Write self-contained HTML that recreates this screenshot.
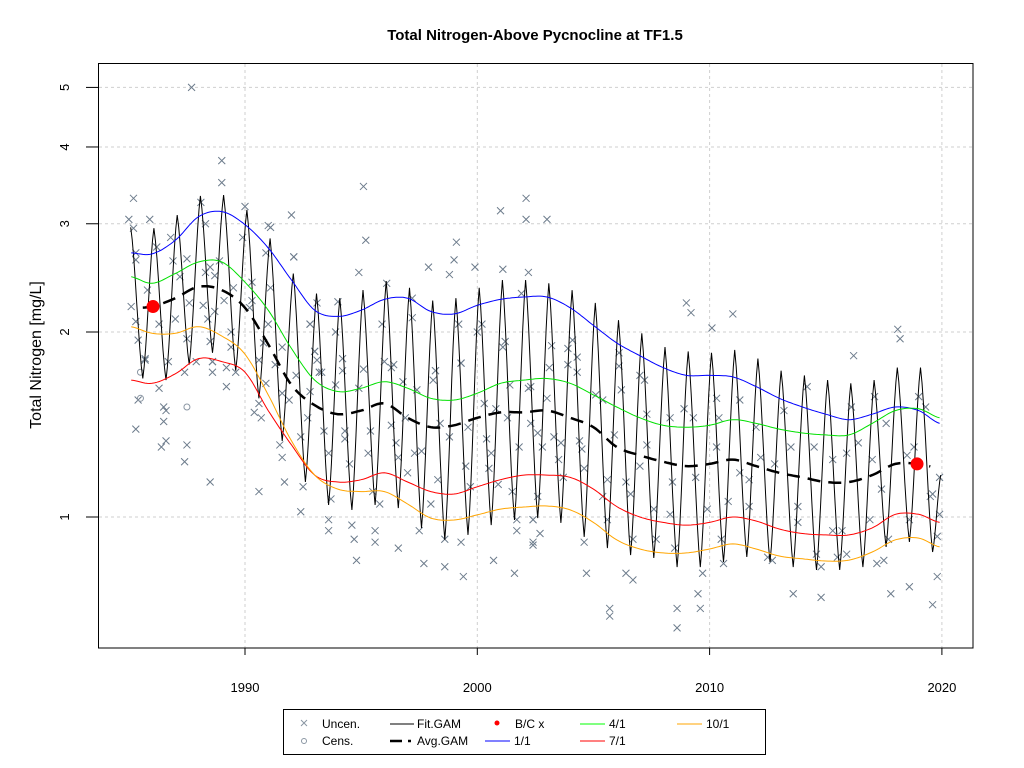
<!DOCTYPE html>
<html><head><meta charset="utf-8">
<style>
html,body{margin:0;padding:0;background:#fff;}
svg{display:block;font-family:"Liberation Sans",Arial,sans-serif;}
</style></head>
<body>
<svg id="chart" width="1024" height="768" viewBox="0 0 1024 768" xmlns="http://www.w3.org/2000/svg">
<rect width="1024" height="768" fill="#fff"/>
<text x="535" y="40" text-anchor="middle" font-size="15" font-weight="bold">Total Nitrogen-Above Pycnocline at TF1.5</text>
<text transform="translate(41,355) rotate(-90)" text-anchor="middle" font-size="16">Total Nitrogen [mg/L]</text>
<g id="grid"></g>
<g id="marks"></g>
<rect x="98.5" y="63.5" width="874.5" height="584.5" fill="none" stroke="#000" stroke-width="1"/>
<g id="axes"></g>
<g id="legend">
<rect x="283.5" y="709.5" width="482" height="45" fill="#fff" stroke="#000"/>
<g font-size="12">
<g><path d="M301,720 l6,6 M307,720 l-6,6" stroke="#8a96a3" stroke-width="1"/><text x="322" y="728">Uncen.</text></g>
<g><circle cx="304" cy="741" r="2.5" fill="none" stroke="#8a96a3"/><text x="322" y="745">Cens.</text></g>
<g><line x1="390" y1="724" x2="414" y2="724" stroke="#000"/><text x="417" y="728">Fit.GAM</text></g>
<g><line x1="390" y1="741" x2="402" y2="741" stroke="#000" stroke-width="2.5"/><line x1="408" y1="741" x2="411" y2="741" stroke="#000" stroke-width="2.5"/><text x="417" y="745">Avg.GAM</text></g>
<g><circle cx="497" cy="723" r="2.5" fill="#f00"/><text x="515" y="728">B/C x</text></g>
<g><line x1="485" y1="741" x2="510" y2="741" stroke="#00f"/><text x="514" y="745">1/1</text></g>
<g><line x1="580" y1="724" x2="605" y2="724" stroke="#0f0"/><text x="609" y="728">4/1</text></g>
<g><line x1="580" y1="741" x2="605" y2="741" stroke="#f00"/><text x="609" y="745">7/1</text></g>
<g><line x1="677" y1="724" x2="702" y2="724" stroke="#ffa500"/><text x="706" y="728">10/1</text></g>
</g></g>
</svg>
<script>
// ---- data ----
const xTicks = [1990, 2000, 2010, 2020];
const yTicks = [1, 2, 3, 4, 5];
const curveYears = [1985.1,1986,1987,1988,1989,1990,1991,1992,1993,1994,1995,1996,1997,1998,1999,2000,2001,2002,2003,2004,2005,2006,2007,2008,2009,2010,2011,2012,2013,2014,2015,2016,2017,2018,2019,2019.9];
const jan1 = [2.69,2.68,2.82,3.08,3.14,2.99,2.74,2.43,2.17,2.12,2.17,2.26,2.27,2.16,2.14,2.21,2.26,2.28,2.28,2.19,2.05,1.92,1.83,1.75,1.70,1.70,1.69,1.63,1.56,1.51,1.47,1.44,1.47,1.51,1.49,1.42];
const apr1 = [2.46,2.40,2.49,2.60,2.60,2.41,2.17,1.88,1.67,1.60,1.62,1.66,1.62,1.56,1.55,1.59,1.65,1.67,1.68,1.65,1.58,1.51,1.45,1.41,1.40,1.41,1.44,1.42,1.39,1.37,1.36,1.36,1.42,1.49,1.50,1.45];
const jul1 = [1.67,1.65,1.71,1.81,1.79,1.72,1.49,1.31,1.17,1.14,1.15,1.18,1.14,1.10,1.09,1.12,1.15,1.17,1.17,1.16,1.11,1.04,1.00,0.98,0.97,0.98,1.00,0.985,0.956,0.94,0.935,0.935,0.96,1.01,1.01,0.98];
const oct1 = [2.04,1.99,1.99,2.04,1.97,1.84,1.58,1.33,1.17,1.11,1.10,1.10,1.05,0.996,0.989,1.008,1.03,1.038,1.042,1.027,0.98,0.918,0.887,0.874,0.874,0.887,0.904,0.887,0.864,0.855,0.848,0.851,0.877,0.918,0.924,0.894];
const avgGam = [2.19,2.20,2.27,2.37,2.34,2.19,1.91,1.64,1.52,1.47,1.49,1.53,1.45,1.40,1.41,1.45,1.48,1.48,1.49,1.45,1.40,1.30,1.26,1.23,1.21,1.22,1.24,1.21,1.18,1.16,1.14,1.14,1.17,1.22,1.22,1.20];
const fitYears = [1985,1986,1987,1988,1989,1990,1991,1992,1993,1994,1995,1996,1997,1998,1999,2000,2001,2002,2003,2004,2005,2006,2007,2008,2009,2010,2011,2012,2013,2014,2015,2016,2017,2018,2019];
const fitPeaks = [2.96,2.95,3.10,3.33,3.34,3.16,2.84,2.49,2.31,2.27,2.34,2.42,2.36,2.25,2.27,2.36,2.43,2.43,2.40,2.34,2.23,2.09,1.99,1.89,1.86,1.85,1.87,1.81,1.73,1.70,1.67,1.65,1.67,1.75,1.75];
const fitTroughs = [1.68,1.67,1.77,1.85,1.73,1.56,1.33,1.14,1.046,1.027,1.046,1.034,0.96,0.918,0.935,0.970,0.989,0.996,0.978,0.928,0.890,0.867,0.858,0.829,0.829,0.845,0.861,0.845,0.829,0.820,0.820,0.829,0.894,0.911,0.877];
const fitEnd = [2019.95, 1.17];
const bcYears = [1986.04, 2018.93];
const bcValues = [2.20, 1.22];
const censYears = [1985.5, 1985.5, 1987.5];
const censValues = [1.72, 1.56, 1.51];
const uncenYears = [1987.7,1989.0,1989.0,1995.1,1985.2,2001.0,2002.1,2002.1,2003.0,1992.0,1990.0,1985.0,1985.9,1991.0,1995.2,1999.1,1999.0,1997.9,1998.8,1999.9,2001.1,2002.2,1992.1,1994.9,1997.2,1996.1,
2009.0,2009.2,2011.0,2010.1,2018.1,2018.2,2016.2,
2003.2,2003.9,2004.1,2004.3,2003.9,2004.3,2003.1,2002.3,2003.0,2002.6,2003.3,2003.6,2002.8,2003.5,2003.7,2002.6,2002.4,2002.7,2002.4,2004.6,2004.7,2004.6,2004.4,2004.5,2005.1,2005.4,2005.6,2005.6,2005.4,2005.7,2005.7,2006.1,2006.1,2006.2,2005.9,2006.4,2006.6,2006.7,2006.4,2006.7,2007.0,2007.2,2007.3,2007.3,2007.6,2007.7,2007.0,2008.3,2008.4,2008.3,2008.5,2008.6,2008.6,2008.9,2009.3,2009.4,2009.7,2009.5,2009.6,2009.9,2010.4,2010.3,2010.3,2010.5,2010.6,2010.8,2011.3,2011.3,2011.7,2011.7,2012.0,2012.2,2012.5,2012.7,2013.2,2012.8,2013.5,2013.8,2013.8,2013.6,2014.2,2014.5,2014.6,2014.8,2014.8,2015.3,2015.3,2015.7,2015.5,2015.9,2015.9,2016.1,2016.4,2016.9,2017.2,2017.0,2017.4,2017.5,2017.7,2017.6,2017.1,2017.8,2018.5,2018.8,2018.6,2018.6,2019.0,2019.3,2019.5,2019.6,2019.8,2019.6,2019.9,2019.9,2019.8,
1993.1,1994.0,1992.8,1993.9,1995.9,1997.2,1999.2,2000.2,2000.0,2001.2,2001.9,1993.0,1993.1,1993.3,1994.2,1994.2,1996.0,1996.4,1995.1,1998.2,1998.1,1999.3,2001.1,2001.4,2002.2,1996.8,1993.9,1997.4,
1988.1,1985.2,1988.3,1986.8,1991.1,1989.9,1985.3,1985.3,1986.2,1987.5,1986.9,1988.9,1988.5,1988.3,1988.7,1990.9,1992.1,1987.2,1989.5,1990.3,1991.1,1985.1,1985.8,1987.6,1988.2,1988.7,1989.1,1990.3,1990.2,1985.3,1986.3,1987.0,1988.4,1989.4,1991.0,1992.8,1985.4,1987.5,1988.5,1989.4,1990.8,1991.6,1993.0,1985.7,1986.7,1987.9,1988.6,1990.6,1993.2,1991.3,
1985.7,1985.4,1986.5,1986.6,1986.3,1986.5,1985.3,1986.4,1986.6,1987.5,1987.4,1988.5,1987.4,1988.6,1988.6,1989.2,1989.2,1989.6,1990.6,1990.4,1990.7,1990.6,1991.6,1991.5,1991.6,1991.7,1992.4,1992.5,1992.4,1992.7,1992.8,1993.2,1993.4,1993.6,1993.7,1993.6,1993.6,1994.3,1994.3,1994.6,1994.7,1994.8,1995.6,1995.6,1995.3,1995.4,1996.3,1996.5,1996.6,1996.6,1996.3,1997.3,1997.7,1997.5,1998.2,1998.4,1998.3,1998.6,1998.6,1998.8,1999.3,1999.4,1999.5,1999.3,2000.3,2000.4,2000.7,2000.6,2000.9,2001.3,2001.6,2001.7,2001.7,2001.8,2002.3,2002.4,2002.4,
1994.5,1995.8,1997.0,1998.0,1999.7,2000.5,2001.5,1996.9,1994.9,1992.2,1991.9,1990.9,2000.8,1999.6,1997.6,1995.5];
const uncenValues = [5.0,3.8,3.5,3.45,3.3,3.15,3.3,3.05,3.05,3.1,3.2,3.05,3.05,2.98,2.82,2.8,2.62,2.55,2.48,2.55,2.53,2.5,2.65,2.5,2.27,2.4,
2.23,2.15,2.14,2.03,2.02,1.95,1.83,
1.90,1.88,1.94,1.82,1.77,1.72,1.75,1.63,1.56,1.37,1.35,1.32,1.30,1.24,1.16,1.08,0.99,0.94,0.90,0.91,0.81,1.20,1.33,1.29,1.58,1.55,1.15,0.99,1.08,0.71,0.69,1.85,1.76,1.61,1.36,1.14,1.09,0.92,0.81,0.79,1.70,1.67,1.47,1.31,1.03,0.92,1.21,1.45,1.14,1.01,0.89,0.71,0.66,1.50,1.45,1.16,0.81,0.75,0.71,1.03,1.45,1.56,1.30,0.92,0.84,1.06,1.55,1.18,1.15,1.04,1.40,1.25,0.86,0.85,1.49,1.22,1.30,1.04,0.98,0.75,1.63,1.30,0.87,0.74,0.83,1.24,0.95,0.95,0.86,0.87,1.27,1.51,1.32,0.99,0.84,1.24,1.11,0.85,0.92,1.42,1.57,0.75,1.26,1.30,0.99,0.77,1.57,1.51,1.08,1.09,0.80,0.72,1.16,1.01,0.93,
2.23,2.24,2.06,2.0,2.06,2.11,2.06,2.06,2.0,1.93,2.31,1.86,1.80,1.72,1.81,1.73,1.79,1.77,1.74,1.73,1.67,1.78,1.89,1.64,1.62,1.66,1.64,1.61,
3.25,2.95,3.0,2.85,2.96,2.85,2.69,2.62,2.75,2.63,2.61,2.61,2.55,2.50,2.47,2.69,2.65,2.46,2.36,2.41,2.36,2.20,2.34,2.23,2.21,2.16,2.25,2.25,2.19,2.08,2.06,2.10,2.10,2.0,2.06,2.06,1.94,1.95,1.93,1.89,1.92,1.89,1.86,1.81,1.79,1.79,1.79,1.80,1.72,1.77,
1.80,1.55,1.51,1.49,1.62,1.43,1.39,1.30,1.33,1.31,1.23,1.14,1.72,1.72,1.79,1.63,1.75,1.72,1.10,1.48,1.45,1.53,1.59,1.31,1.25,1.14,1.35,1.12,1.02,1.45,1.60,1.72,1.38,1.27,1.07,0.99,0.95,1.38,1.34,0.97,0.92,0.85,0.95,0.91,1.27,1.38,1.41,1.32,1.25,0.89,1.75,1.27,0.84,0.95,1.73,1.42,1.15,0.92,0.83,1.35,0.91,0.80,1.21,1.78,1.53,1.34,0.85,1.27,1.13,1.45,0.81,0.95,0.99,1.30,1.42,0.99,0.91,
1.22,1.05,1.18,1.05,1.12,1.20,1.10,1.45,1.62,1.70,1.55,1.65,1.50,1.40,1.28,1.10];

// ---- scales ----
const X0 = 245, PX_PER_YEAR = 23.23, Y1 = 517, PX_PER_DEC = 614.6;
function xs(t){ return X0 + (t - 1990) * PX_PER_YEAR; }
function ys(v){ return Y1 - Math.log10(v) * PX_PER_DEC; }
const NS = 'http://www.w3.org/2000/svg';
function mk(tag, attrs, parent){ const e = document.createElementNS(NS, tag); for (const k in attrs) e.setAttribute(k, attrs[k]); parent.appendChild(e); return e; }
const grid = document.getElementById('grid'), marks = document.getElementById('marks'), axes = document.getElementById('axes');

// grid + axes
xTicks.forEach(t => {
  const g = mk('line', {x1: xs(t), x2: xs(t), y1: 64, y2: 648, stroke: '#cfcfcf', 'stroke-dasharray': '3,3'}, grid);
  
  
  const tk = mk('line', {x1: xs(t), x2: xs(t), y1: 648, y2: 655, stroke: '#000'}, axes);
  
  
  const lb = mk('text', {x: xs(t), y: 692, 'text-anchor': 'middle', 'font-size': 13}, axes);
  lb.textContent = t;
  
  
});
yTicks.forEach(v => {
  const y = ys(v);
  const g = mk('line', {x1: 99, x2: 973, y1: y, y2: y, stroke: '#cfcfcf', 'stroke-dasharray': '3,3'}, grid);
  
  
  const tk = mk('line', {x1: 86, x2: 98, y1: y, y2: y, stroke: '#000'}, axes);
  
  
  const lb = mk('text', {transform: 'translate(69,' + y + ') rotate(-90)', 'text-anchor': 'middle', 'font-size': 13}, axes);
  lb.textContent = v;
  
  
});

// scatter
for (let i = 0; i < uncenYears.length; i++) {
  const cx = xs(uncenYears[i]), cy = ys(uncenValues[i]);
  const p = mk('path', {d: 'M' + (cx-3.5) + ',' + (cy-3.5) + 'l7,7M' + (cx+3.5) + ',' + (cy-3.5) + 'l-7,7', stroke: '#6d7c8c', 'stroke-width': 1, fill: 'none'}, marks);
  
  
}
for (let i = 0; i < censYears.length; i++) {
  const c = mk('circle', {cx: xs(censYears[i]), cy: ys(censValues[i]), r: 3, fill: 'none', stroke: '#8a96a3'}, marks);
  
  
}

// fit GAM seasonal line
(function(){
  const pts = [];
  for (let i = 0; i < fitYears.length; i++) {
    pts.push([fitYears[i] + 0.08, fitPeaks[i]]);
    pts.push([fitYears[i] + 0.6, fitTroughs[i]]);
  }
  pts.push(fitEnd);
  let d = '';
  for (let i = 0; i < pts.length - 1; i++) {
    const [t0, v0] = pts[i], [t1, v1] = pts[i+1];
    const l0 = Math.log10(v0), l1 = Math.log10(v1);
    for (let k = 0; k <= 8; k++) {
      const f = k / 8;
      const t = t0 + (t1 - t0) * f;
      const s = 0.5 * f + 0.5 * (0.5 - 0.5 * Math.cos(Math.PI * f));
      const lv = l0 + (l1 - l0) * s;
      d += (d ? 'L' : 'M') + xs(t).toFixed(1) + ',' + (Y1 - lv * PX_PER_DEC).toFixed(1);
    }
  }
  const p = mk('path', {d: d, fill: 'none', stroke: '#000', 'stroke-width': 1}, marks);
  
  
})();

// smooth curves
function curvePath(vals, t0, t1){
  let d = '';
  for (let t = t0; t <= t1 + 1e-9; t += 0.1) {
    let i = 0; while (i < curveYears.length - 2 && curveYears[i+1] < t) i++;
    const a = curveYears[i], b = curveYears[i+1];
    const f = Math.min(1, Math.max(0, (t - a) / (b - a)));
    const L = j => Math.log10(vals[Math.max(0, Math.min(vals.length-1, j))]);
    const p0 = L(i-1), p1 = L(i), p2 = L(i+1), p3 = L(i+2);
    const lv = 0.5*((2*p1) + (-p0+p2)*f + (2*p0-5*p1+4*p2-p3)*f*f + (-p0+3*p1-3*p2+p3)*f*f*f);
    d += (d ? 'L' : 'M') + xs(t).toFixed(1) + ',' + (Y1 - lv * PX_PER_DEC).toFixed(1);
  }
  return d;
}
[[jan1,'#0000ff','curve-1-1'],[apr1,'#00e000','curve-4-1'],[jul1,'#ff0000','curve-7-1'],[oct1,'#ffa500','curve-10-1']].forEach(c => {
  const p = mk('path', {d: curvePath(c[0], 1985.1, 2019.9), fill: 'none', stroke: c[1], 'stroke-width': 1}, marks);
  
  
});
const avgP = mk('path', {d: curvePath(avgGam, 1985.6, 2019.5), fill: 'none', stroke: '#000', 'stroke-width': 2.5, 'stroke-dasharray': '13,8'}, marks);



for (let i = 0; i < bcYears.length; i++) {
  const c = mk('circle', {cx: xs(bcYears[i]), cy: ys(bcValues[i]), r: 6.5, fill: '#ff0000'}, marks);
  
  
}
</script>
</body></html>
